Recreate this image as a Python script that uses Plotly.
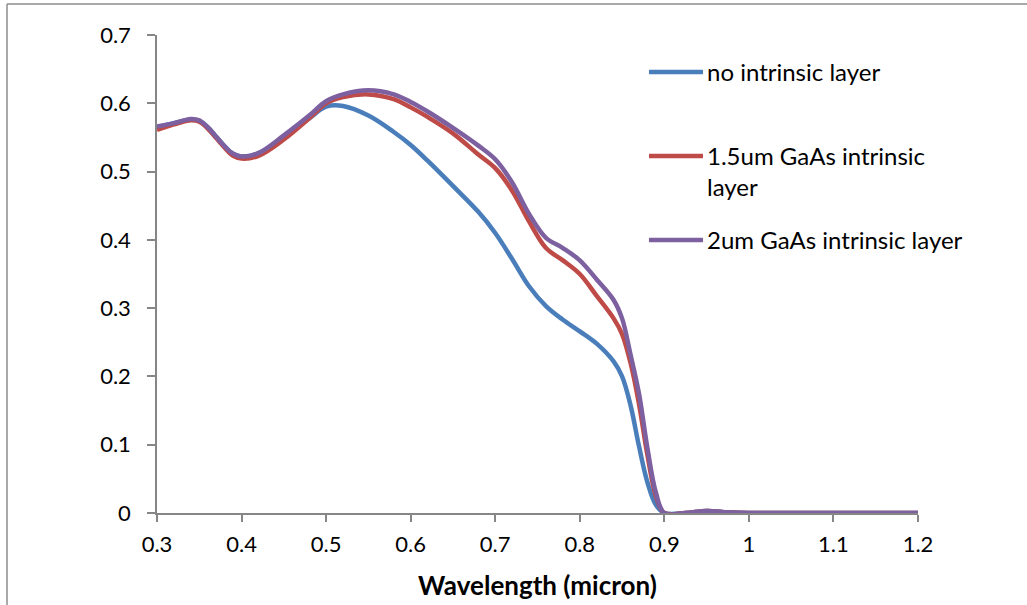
import plotly.graph_objects as go

wavelength = [0.30, 0.32, 0.34, 0.35, 0.36, 0.37, 0.38, 0.39, 0.40, 0.42, 0.45, 0.48, 0.50, 0.52,
              0.55, 0.58, 0.60, 0.62, 0.65, 0.68, 0.70, 0.72, 0.74, 0.76, 0.78, 0.80, 0.82, 0.84,
              0.85, 0.86, 0.87, 0.88, 0.89, 0.90, 0.925, 0.95, 0.975, 1.00, 1.05, 1.10, 1.15, 1.20]

no_intrinsic = [0.565, 0.571, 0.576, 0.574, 0.565, 0.551, 0.537, 0.526, 0.522, 0.527, 0.551, 0.578,
                0.595, 0.596, 0.582, 0.558, 0.539, 0.516, 0.479, 0.441, 0.410, 0.372, 0.332, 0.303,
                0.283, 0.266, 0.248, 0.222, 0.200, 0.158, 0.098, 0.045, 0.012, 0.0, 0.0, 0.003,
                0.001, 0.0, 0.0, 0.0, 0.0, 0.0]

gaas_1_5um = [0.561, 0.569, 0.575, 0.573, 0.563, 0.549, 0.535, 0.523, 0.519, 0.523, 0.547, 0.578,
              0.600, 0.609, 0.613, 0.606, 0.594, 0.580, 0.556, 0.525, 0.505, 0.472, 0.427, 0.388,
              0.370, 0.350, 0.318, 0.285, 0.262, 0.220, 0.160, 0.085, 0.025, 0.0, 0.0, 0.003,
              0.001, 0.0, 0.0, 0.0, 0.0, 0.0]

gaas_2um = [0.566, 0.571, 0.577, 0.575, 0.565, 0.551, 0.537, 0.526, 0.522, 0.527, 0.553, 0.582,
            0.603, 0.613, 0.619, 0.613, 0.602, 0.588, 0.564, 0.538, 0.518, 0.484, 0.438, 0.403,
            0.388, 0.370, 0.342, 0.312, 0.285, 0.232, 0.175, 0.095, 0.030, 0.0, 0.0, 0.003,
            0.001, 0.0, 0.0, 0.0, 0.0, 0.0]

series_names = ["no intrinsic layer", "1.5um GaAs intrinsic<br>layer", "2um GaAs intrinsic layer"]
series_values = [no_intrinsic, gaas_1_5um, gaas_2um]
series_colors = ["#4A7EBB", "#BE4B48", "#7D60A0"]

x_tickvals = [0.3, 0.4, 0.5, 0.6, 0.7, 0.8, 0.9, 1.0, 1.1, 1.2]
x_ticktext = ["0.3", "0.4", "0.5", "0.6", "0.7", "0.8", "0.9", "1", "1.1", "1.2"]
y_tickvals = [0, 0.1, 0.2, 0.3, 0.4, 0.5, 0.6, 0.7]
y_ticktext = ["0", "0.1", "0.2", "0.3", "0.4", "0.5", "0.6", "0.7"]
x_title = "Wavelength (micron)"

FONT = "Lato, Open Sans, sans-serif"
W, H = 1027, 605
L, R, T, B = 157, 109, 35, 92
pw, ph = W - L - R, H - T - B

def px_x(p):
    return (p - L) / pw

def px_y(p):
    return (H - B - p) / ph

fig = go.Figure()
for name, vals, col in zip(series_names, series_values, series_colors):
    fig.add_trace(go.Scatter(x=wavelength, y=vals, mode="lines", name=name,
                             line=dict(color=col, width=4.5, shape="spline", smoothing=1.0),
                             showlegend=False, cliponaxis=False))

# manual legend
legend_y = [72, 156, 240]
shapes = []
annotations = []
for name, col, ly in zip(series_names, series_colors, legend_y):
    shapes.append(dict(type="line", xref="paper", yref="paper",
                       x0=px_x(649), x1=px_x(703), y0=px_y(ly), y1=px_y(ly),
                       line=dict(color=col, width=4.5)))
    annotations.append(dict(xref="paper", yref="paper", x=px_x(705), y=px_y(ly - 17),
                            text=name, showarrow=False, xanchor="left", yanchor="top",
                            align="left", font=dict(family=FONT, size=24, color="#000000")))

# chart frame (left and top edges)
shapes.append(dict(type="line", xref="paper", yref="paper", x0=px_x(7), x1=px_x(7),
                   y0=px_y(4), y1=px_y(610), line=dict(color="#8C8C8C", width=1.5)))
shapes.append(dict(type="line", xref="paper", yref="paper", x0=px_x(7), x1=px_x(1030),
                   y0=px_y(4), y1=px_y(4), line=dict(color="#8C8C8C", width=1.5)))

fig.update_layout(
    width=W, height=H,
    margin=dict(l=L, r=R, t=T, b=B),
    paper_bgcolor="white", plot_bgcolor="white",
    font=dict(family=FONT, size=22, color="#000000"),
    shapes=shapes, annotations=annotations,
    xaxis=dict(range=[0.3, 1.2], tickvals=x_tickvals, ticktext=x_ticktext, automargin=False,
               showgrid=False, zeroline=False, showline=True, linecolor="#868686", linewidth=1.5,
               ticks="outside", ticklen=7, tickcolor="#868686", tickwidth=1.5,
               ticklabelstandoff=4,
               title=dict(text="<b>" + x_title + "</b>", font=dict(family=FONT, size=26), standoff=21)),
    yaxis=dict(range=[0, 0.7], tickvals=y_tickvals, ticktext=y_ticktext, automargin=False,
               showgrid=False, zeroline=False, showline=True, linecolor="#868686", linewidth=1.5,
               ticks="outside", ticklen=8, tickcolor="#868686", tickwidth=1.5,
               ticklabelstandoff=12),
)

fig.write_html("out.html")
